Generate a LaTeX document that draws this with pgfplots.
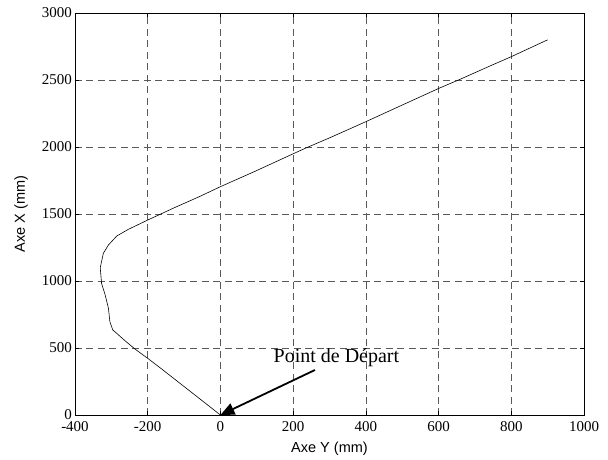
\documentclass[border=0pt]{standalone}
\usepackage{fontspec}
\setmainfont{Liberation Serif}
\newfontfamily\arialfont{Liberation Sans}
\usepackage{pgfplots}
\pgfplotsset{compat=1.18}
\usetikzlibrary{arrows.meta}
\begin{document}
\begin{tikzpicture}
\path[use as bounding box] (-75pt,-44pt) rectangle (533pt,415pt);
\begin{axis}[
  at={(0pt,0pt)}, anchor=south west,
  scale only axis, width=509pt, height=402pt,
  xmin=-400, xmax=1000, ymin=0, ymax=3000,
  xtick={-400,-200,...,1000}, ytick={0,500,...,3000},
  grid=major,
  major grid style={dash pattern=on 7pt off 4.5pt, black!65, line width=0.7pt},
  axis line style={black, line width=0.9pt},
  tick align=inside, major tick length=4pt,
  tick style={black, line width=0.6pt},
  /pgf/number format/assume math mode=true,
  /pgf/number format/1000 sep={},
  ticklabel style={font=\fontsize{15}{15}\selectfont},
  xticklabel style={anchor=north, inner sep=0pt, yshift=-6pt},
  yticklabel style={anchor=east, inner sep=0pt, xshift=-3pt},
  xlabel={Axe Y (mm)}, ylabel={Axe X (mm)},
  label style={font=\arialfont\fontsize{14.5}{14.5}\selectfont},
  xlabel style={at={(axis description cs:0.5,-0.0846)}, anchor=center},
  ylabel style={at={(axis description cs:-0.106,0.5)}, anchor=center},
  clip=false,
]
\addplot[black, line width=0.6pt] coordinates {
(0,0) (-40,85) (-80,170) (-120,255) (-160,340) (-200,423) (-235,492)
(-265,560) (-285,609) (-296,634) (-304,696) (-308,796) (-317,896)
(-327,983) (-330,1082) (-330,1107) (-322,1207) (-308,1269) (-285,1336)
(-253,1386) (-200,1455) (-180,1480) (-125,1549) (-60,1627) (0,1704)
(93,1816) (199,1948) (237,1995) (300,2068) (400,2189) (500,2313)
(601,2438) (659,2505) (740,2603) (800,2674) (900,2800)
};
\draw[black, line width=1.8pt, -{Triangle[length=14pt,width=12pt]}] (axis cs:260,336) -- (axis cs:0,0);
\node[anchor=base, inner sep=0pt, font=\fontsize{20}{20}\selectfont] at (axis cs:319,390) {Point de Départ};
\end{axis}
\end{tikzpicture}
\end{document}
